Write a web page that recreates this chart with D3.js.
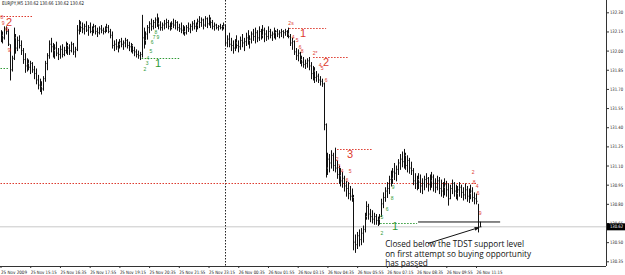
<!DOCTYPE html>
<html>
<head>
<meta charset="utf-8">
<script src="https://cdn.jsdelivr.net/npm/d3@7"></script>
<style>
  body { margin: 0; background: #fff; }
  svg { display: block; font-family: "Liberation Sans", Arial, sans-serif; }
</style>
</head>
<body>
<svg id="chart" width="625" height="275"></svg>
<script>
// EURJPY M5 bars (bar 0 = 25 Nov 13:55)
const highs = [
  132.16,132.15,132.19,132.19,132.17,132.05,131.96,132.18,132.13,132.11,
  132.12,132.08,132.02,131.98,131.94,131.93,131.92,131.91,131.88,131.86,
  131.81,131.78,131.76,131.80,131.92,131.98,132.08,132.10,132.06,132.05,
  132.07,132.02,132.04,132.05,132.03,132.07,132.06,132.05,132.07,132.06,
  132.03,132.20,132.24,132.23,132.22,132.21,132.23,132.20,132.22,132.19,
  132.21,132.20,132.18,132.19,132.20,132.18,132.19,132.21,132.20,132.17,
  132.15,132.08,132.09,132.07,132.09,132.10,132.08,132.10,132.09,132.07,
  132.06,132.05,132.03,132.01,132.00,131.99,132.28,132.18,132.15,132.20,
  132.23,132.25,132.24,132.26,132.29,132.26,132.23,132.22,132.24,132.25,
  132.24,132.22,132.23,132.25,132.24,132.23,132.21,132.22,132.20,132.19,
  132.20,132.22,132.21,132.23,132.24,132.22,132.25,132.27,132.26,132.25,
  132.27,132.26,132.28,132.26,132.24,132.22,132.21,132.20,132.21,132.20,
  132.22,132.20,132.12,132.14,132.10,132.08,132.09,132.12,132.08,132.11,
  132.13,132.10,132.14,132.16,132.12,132.15,132.17,132.18,132.16,132.19,
  132.17,132.20,132.18,132.16,132.19,132.17,132.15,132.18,132.16,132.17,
  132.16,132.17,132.16,132.17,132.16,132.18,132.13,132.10,132.08,132.02,
  132.01,131.99,131.96,131.95,131.93,131.94,131.95,131.91,131.88,131.87,
  131.84,131.82,131.80,131.78,131.75,131.43,131.20,131.19,131.22,131.20,
  131.24,131.14,131.10,131.08,131.05,131.02,130.98,130.97,130.94,130.92,
  130.87,130.56,130.58,130.60,130.61,130.63,130.73,130.82,130.80,130.76,
  130.75,130.73,130.72,130.70,130.72,130.84,130.89,130.93,130.97,131.02,
  131.06,131.08,131.12,131.10,131.15,131.19,131.21,131.23,131.20,131.18,
  131.16,131.13,131.08,131.04,131.02,131.04,131.03,131.00,131.02,131.04,
  131.01,131.03,131.05,131.03,131.00,131.02,131.01,130.99,130.97,131.00,
  130.98,130.96,130.95,130.99,130.97,130.95,130.94,130.97,130.95,130.93,
  130.96,130.94,130.92,130.95,130.93,130.89,130.88,130.80,130.66
];
const lows = [
  132.07,132.06,132.09,132.13,132.04,131.77,131.84,131.93,131.98,132.00,
  132.02,131.97,131.90,131.83,131.84,131.85,131.82,131.83,131.78,131.74,
  131.70,131.68,131.66,131.69,131.76,131.85,131.94,131.99,131.95,131.94,
  131.96,131.93,131.94,131.95,131.96,131.98,131.97,131.97,131.99,131.97,
  131.95,132.00,132.13,132.15,132.14,132.13,132.15,132.12,132.14,132.12,
  132.14,132.13,132.11,132.13,132.14,132.13,132.14,132.15,132.14,132.10,
  132.02,132.00,132.01,131.99,132.02,132.03,132.01,132.03,132.02,132.00,
  131.99,131.98,131.96,131.95,131.94,131.93,131.95,132.02,132.05,132.09,
  132.14,132.16,132.17,132.18,132.19,132.17,132.16,132.16,132.17,132.18,
  132.17,132.16,132.17,132.18,132.17,132.16,132.15,132.14,132.13,132.12,
  132.13,132.15,132.14,132.16,132.17,132.15,132.17,132.18,132.19,132.17,
  132.19,132.18,132.20,132.18,132.17,132.16,132.17,132.16,132.17,132.16,
  132.17,132.04,132.03,132.03,132.00,131.98,132.00,132.02,131.99,132.01,
  132.03,132.00,132.04,132.05,132.02,132.06,132.08,132.06,132.07,132.08,
  132.09,132.10,132.07,132.08,132.09,132.10,132.08,132.10,132.09,132.11,
  132.10,132.11,132.10,132.12,132.11,132.10,132.04,132.01,131.97,131.93,
  131.92,131.90,131.88,131.87,131.86,131.87,131.85,131.78,131.77,131.75,
  131.76,131.75,131.73,131.72,131.38,131.01,131.03,131.05,131.08,131.06,
  131.05,131.00,130.96,130.94,130.93,130.90,130.86,130.84,130.83,130.82,
  130.44,130.42,130.45,130.47,130.48,130.50,130.58,130.68,130.68,130.66,
  130.65,130.64,130.64,130.63,130.64,130.70,130.77,130.82,130.85,130.88,
  130.94,130.96,130.99,130.98,131.03,131.07,131.09,131.08,131.07,131.05,
  131.04,131.03,130.95,130.92,130.91,130.92,130.89,130.88,130.91,130.93,
  130.90,130.91,130.93,130.90,130.89,130.91,130.88,130.86,130.85,130.87,
  130.86,130.79,130.84,130.88,130.86,130.84,130.83,130.86,130.85,130.83,
  130.84,130.82,130.81,130.84,130.82,130.80,130.80,130.58,130.62
];
const closes = [
  132.12,132.10,132.17,132.15,132.05,131.85,131.94,132.10,132.02,132.08,
  132.04,132.00,131.93,131.88,131.90,131.87,131.90,131.85,131.82,131.77,
  131.73,131.72,131.70,131.78,131.90,131.96,132.05,132.03,132.00,132.02,
  131.98,131.97,132.01,131.97,132.00,132.04,132.02,132.00,132.05,131.99,
  132.01,132.16,132.20,132.18,132.17,132.19,132.16,132.18,132.15,132.17,
  132.19,132.15,132.14,132.17,132.16,132.15,132.17,132.18,132.15,132.12,
  132.04,132.05,132.03,132.05,132.07,132.05,132.06,132.08,132.04,132.03,
  132.04,132.00,131.99,131.97,131.96,131.97,132.10,132.08,132.13,132.18,
  132.21,132.19,132.22,132.24,132.21,132.20,132.18,132.20,132.21,132.22,
  132.19,132.18,132.21,132.20,132.22,132.18,132.17,132.16,132.15,132.14,
  132.18,132.17,132.19,132.21,132.19,132.20,132.23,132.22,132.24,132.20,
  132.25,132.21,132.24,132.22,132.19,132.20,132.18,132.19,132.18,132.19,
  132.20,132.06,132.09,132.05,132.04,132.02,132.06,132.04,132.03,132.08,
  132.06,132.07,132.10,132.08,132.09,132.13,132.11,132.14,132.10,132.15,
  132.12,132.16,132.13,132.11,132.15,132.12,132.13,132.14,132.15,132.13,
  132.14,132.15,132.14,132.15,132.13,132.11,132.06,132.07,131.99,131.96,
  131.98,131.93,131.91,131.89,131.90,131.92,131.88,131.82,131.84,131.79,
  131.80,131.77,131.76,131.74,131.42,131.08,131.15,131.12,131.18,131.10,
  131.08,131.03,131.02,130.98,131.00,130.94,130.92,130.88,130.86,130.85,
  130.50,130.48,130.55,130.52,130.57,130.60,130.70,130.78,130.72,130.70,
  130.68,130.70,130.67,130.68,130.70,130.80,130.85,130.90,130.92,130.99,
  131.00,131.05,131.04,131.07,131.12,131.15,131.13,131.18,131.10,131.14,
  131.08,131.06,130.98,130.96,130.99,130.97,130.94,130.96,130.99,131.00,
  130.95,130.98,131.01,130.96,130.93,130.98,130.92,130.90,130.93,130.95,
  130.91,130.84,130.92,130.96,130.90,130.88,130.91,130.93,130.89,130.87,
  130.91,130.86,130.88,130.90,130.85,130.84,130.82,130.62,130.62
];

const priceTicks = [132.30,132.15,132.00,131.85,131.70,131.55,131.40,131.25,131.10,130.95,130.80,130.65,130.50,130.35];
const timeTickBars = [0,16,32,48,64,80,96,112,128,144,160,176,192,208,224,240,256];
const timeLabels = ["25 Nov 2009","25 Nov 15:15","25 Nov 16:35","25 Nov 17:55","25 Nov 19:15","25 Nov 20:35",
  "25 Nov 21:55","25 Nov 23:15","26 Nov 00:35","26 Nov 01:55","26 Nov 03:15","26 Nov 04:35",
  "26 Nov 05:55","26 Nov 07:15","26 Nov 08:35","26 Nov 09:55","26 Nov 11:15"];
const dayBreakBar = 121;
const lastPrice = 130.62;
const title = "EURJPY,M5  130.62 130.66 130.62 130.62";

// TD levels: [fromBar, toBar, price]
const sellLevels = [[0,17,132.273],[155.4,175.3,132.177],[168.3,187.1,131.95],[181.2,200,131.233],[0,256.6,130.963]];
const buyLevels = [[0,4,131.864],[76,96.7,131.942],[204.4,224.3,130.652]];

// TD counts: [bar, price, text]
const sellCounts = [[0.8,132.263,"8"],[1.4,132.218,"9"],[3.5,132.169,"8"],[4.6,132.005,"9"],
  [156.4,132.216,"2s"],[157.5,132.107,"4"],[159.7,132.083,"5"],[161.3,132.028,"6"],[162.4,131.997,"8"],
  [169.4,131.981,"2*"],[172.1,131.887,"4"],[173.1,131.864,"5"],[175.3,131.77,"6"],
  [181.2,131.15,"2"],[182.3,131.10,"3"],[183.9,131.057,"4"],[188.2,131.057,"5"],[186.6,130.986,"6"],
  [254.4,131.05,"2"],[255.0,130.97,"8"],[256.6,130.94,"4"],[257.1,130.885,"6"],[258.2,130.728,"9"]];
const sellSetups = [[4.6,132.224,"2"],[162.9,132.138,"1"],[175.3,131.911,"2"],[188.2,131.19,"3"]];
const buyCounts = [[77.8,131.856,"2"],[78.9,131.903,"3"],[79.4,131.94,"4"],[81.0,131.995,"5"],
  [81.6,132.067,"6"],[82.7,132.106,"7"],[83.7,132.146,"8"],[84.8,132.106,"9"],
  [205.4,130.57,"2"],[205.4,130.697,"5"],[208.1,130.76,"6"],[210.8,130.846,"8"],[211.4,130.932,"9"]];
const buySetups = [[84.8,131.903,"1"],[212.4,130.625,"1"]];

const trendLine = [[224.8,130.658],[269,130.658]];
const arrowLine = [[230.2,130.49],[257.7,130.615]];
const noteAnchor = [207.1,130.46];
const noteLines = ["Closed below the TDST support level","on first attempt so buying opportunity","has passed"];

const W = 625, plotRight = 606, plotBottom = 266;
const RED = "#dd3a2e", GREEN = "#2f9a35";

const x = d3.scaleLinear().domain([0, 256]).range([0.5, 476]);
const y = d3.scaleLinear().domain([130.35, 132.30]).range([261.3, 12.3]);
const px = i => Math.round(x(i)) + 0.5;

const svg = d3.select("#chart");

svg.append("defs").append("clipPath").attr("id", "plot")
  .append("rect").attr("x", 0).attr("y", 0).attr("width", plotRight).attr("height", plotBottom);
svg.select("defs").append("marker")
  .attr("id", "head").attr("viewBox", "0 0 10 10").attr("refX", 9).attr("refY", 5)
  .attr("markerWidth", 5).attr("markerHeight", 5).attr("orient", "auto")
  .append("path").attr("d", "M0,1L10,5L0,9z").attr("fill", "#111");

const plot = svg.append("g").attr("clip-path", "url(#plot)");

// last price line
plot.append("line")
  .attr("x1", 0).attr("x2", plotRight)
  .attr("y1", y(lastPrice)).attr("y2", y(lastPrice))
  .attr("stroke", "#c8c8c8").attr("stroke-width", 1);

// day separator
plot.append("line")
  .attr("x1", px(dayBreakBar)).attr("x2", px(dayBreakBar))
  .attr("y1", 0).attr("y2", plotBottom)
  .attr("stroke", "#222").attr("stroke-width", 1).attr("stroke-dasharray", "1.5,1.5");

// TDST levels
const drawLevels = (rows, color) => {
  plot.selectAll(null).data(rows).enter().append("line")
    .attr("x1", d => x(d[0])).attr("x2", d => x(d[1]))
    .attr("y1", d => Math.round(y(d[2])) + 0.5).attr("y2", d => Math.round(y(d[2])) + 0.5)
    .attr("stroke", color).attr("stroke-width", 1).attr("stroke-dasharray", "1.5,1.5");
};
drawLevels(sellLevels, RED);
drawLevels(buyLevels, GREEN);

// bars
const bars = plot.append("g").attr("stroke", "#111").attr("stroke-width", 1);
bars.selectAll("line.hl").data(highs).enter().append("line")
  .attr("class", "hl")
  .attr("x1", (d, i) => px(i)).attr("x2", (d, i) => px(i))
  .attr("y1", d => y(d)).attr("y2", (d, i) => y(lows[i]) + 0.5);
bars.selectAll("line.cl").data(closes).enter().append("line")
  .attr("class", "cl")
  .attr("x1", (d, i) => px(i) + 0.5).attr("x2", (d, i) => px(i) + 1.5)
  .attr("y1", d => y(d)).attr("y2", d => y(d))
  .attr("stroke", "#888");

// TD counts and setup numbers
const drawText = (rows, color, size) => {
  plot.selectAll(null).data(rows).enter().append("text")
    .attr("x", d => x(d[0])).attr("y", d => y(d[1]))
    .attr("text-anchor", "middle").attr("dominant-baseline", "central")
    .attr("font-size", size).attr("fill", color)
    .text(d => d[2]);
};
drawText(sellCounts, RED, 5);
drawText(buyCounts, GREEN, 5);
drawText(sellSetups, RED, 11);
drawText(buySetups, GREEN, 11);

// drawn objects
svg.append("line")
  .attr("x1", x(trendLine[0][0])).attr("x2", x(trendLine[1][0]))
  .attr("y1", y(trendLine[0][1])).attr("y2", y(trendLine[1][1]))
  .attr("stroke", "#111").attr("stroke-width", 1);
svg.append("line")
  .attr("x1", x(arrowLine[0][0])).attr("y1", y(arrowLine[0][1]))
  .attr("x2", x(arrowLine[1][0])).attr("y2", y(arrowLine[1][1]))
  .attr("stroke", "#111").attr("stroke-width", 1).attr("marker-end", "url(#head)");

svg.append("g").selectAll("text").data(noteLines).enter().append("text")
  .attr("x", x(noteAnchor[0])).attr("y", (d, i) => y(noteAnchor[1]) + i * 9.6)
  .attr("font-size", 8.2).attr("fill", "#111")
  .attr("font-family", "'Open Sans', 'Liberation Sans', sans-serif")
  .text(d => d);

// axes
const yAxis = d3.axisRight(y).tickValues(priceTicks).tickSize(3).tickFormat(d3.format(".2f"));
const yG = svg.append("g").attr("transform", `translate(${plotRight},0)`).call(yAxis);
yG.select(".domain").attr("d", `M0.5,0V${plotBottom}`).attr("stroke", "#333");
yG.selectAll(".tick line").attr("stroke", "#333");
yG.selectAll(".tick text").attr("x", 4).attr("font-size", 4.6).attr("fill", "#222")
  .attr("font-family", "'DejaVu Sans', sans-serif")
  .attr("textLength", 13).attr("lengthAdjust", "spacingAndGlyphs");

const xAxis = d3.axisBottom(x).tickValues(timeTickBars).tickSize(2)
  .tickFormat((d, i) => timeLabels[i]);
const xG = svg.append("g").attr("transform", `translate(0,${plotBottom})`).call(xAxis);
xG.select(".domain").attr("d", `M0,0.5H${plotRight}`).attr("stroke", "#333");
xG.selectAll(".tick line").attr("stroke", "#333");
xG.selectAll(".tick text").attr("text-anchor", "start").attr("dy", 0).attr("y", 7.5)
  .attr("font-size", 4.6).attr("fill", "#222").attr("font-family", "'DejaVu Sans', sans-serif")
  .attr("textLength", 26).attr("lengthAdjust", "spacingAndGlyphs");

// last price tag
const tag = svg.append("g").attr("transform", `translate(${plotRight + 1},${y(lastPrice)})`);
tag.append("rect").attr("x", 0).attr("y", -3.5).attr("width", W - plotRight - 1).attr("height", 7).attr("fill", "#000");
tag.append("text").attr("x", 3).attr("y", 0).attr("dominant-baseline", "central")
  .attr("font-size", 4.6).attr("fill", "#fff").attr("font-family", "'DejaVu Sans', sans-serif")
  .attr("textLength", 13).attr("lengthAdjust", "spacingAndGlyphs")
  .text(d3.format(".2f")(lastPrice));

// title
svg.append("text").attr("x", 2).attr("y", 5)
  .attr("font-size", 5).attr("fill", "#111").attr("font-family", "'DejaVu Sans', sans-serif")
  .attr("textLength", 82).attr("lengthAdjust", "spacingAndGlyphs")
  .text(title);
</script>
</body>
</html>
